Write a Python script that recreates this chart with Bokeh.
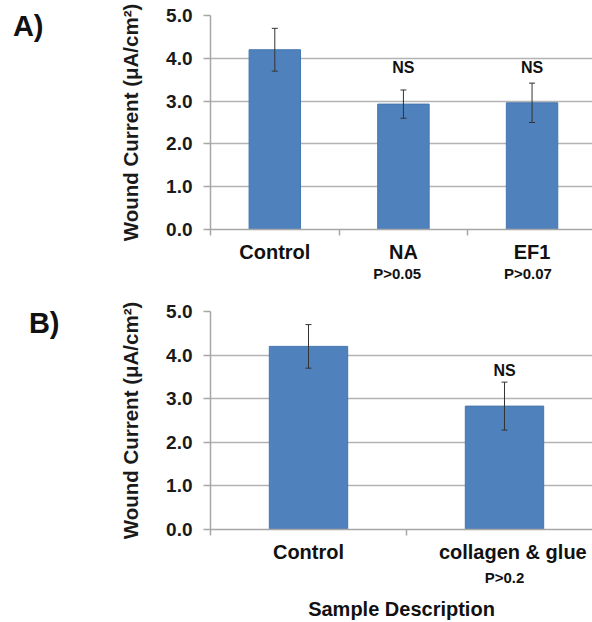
from bokeh.plotting import figure
from bokeh.layouts import column
from bokeh.models import (Range1d, FixedTicker, Whisker, TeeHead, ColumnDataSource,
                          Label, NumeralTickFormatter, LinearAxis)
from bokeh.embed import file_html
from bokeh.resources import INLINE

# ---- data ----
y_ticks = [0, 1, 2, 3, 4, 5]

categories_a = ["Control", "NA", "EF1"]
current_a = [4.2, 2.93, 2.96]
error_a = [0.5, 0.33, 0.46]
sig_a = ["", "NS", "NS"]
pvalue_a = ["", "P>0.05", "P>0.07"]

categories_b = ["Control", "collagen & glue"]
current_b = [4.2, 2.83]
error_b = [0.5, 0.55]
sig_b = ["", "NS"]
pvalue_b = ["", "P>0.2"]

FONT = "Liberation Sans"
BAR = "#4f81bd"
GRID = "#b3b3b3"
AXIS = "#a6a6a6"
TXT = "#111111"
NBSP = "\u00a0"
YLABEL = "Wound Current (\u03bcA/cm\u00b2)"


def plain_axis(ax, size, standoff):
    ax.axis_line_color = None
    ax.major_tick_line_color = None
    ax.minor_tick_line_color = None
    ax.major_tick_out = 0
    ax.major_tick_in = 0
    ax.minor_tick_out = 0
    ax.minor_tick_in = 0
    ax.major_label_standoff = standoff
    ax.major_label_text_font = FONT
    ax.major_label_text_font_style = "bold"
    ax.major_label_text_font_size = size
    ax.major_label_text_color = TXT


def style(p, xt, minor, overrides):
    p.outline_line_color = None
    p.xgrid.visible = False
    p.ygrid.ticker = FixedTicker(ticks=y_ticks)
    p.ygrid.grid_line_color = GRID
    p.ygrid.grid_line_width = 1.5

    ya = p.yaxis[0]
    ya.ticker = FixedTicker(ticks=y_ticks)
    ya.formatter = NumeralTickFormatter(format="0.0")
    ya.axis_line_color = AXIS
    ya.axis_line_width = 1.5
    ya.major_tick_line_color = AXIS
    ya.major_tick_line_width = 1.5
    ya.major_tick_out = 7
    ya.major_tick_in = 0
    ya.minor_tick_line_color = None
    ya.minor_tick_out = 0
    ya.minor_tick_in = 0
    ya.major_label_standoff = 11
    ya.major_label_text_font = FONT
    ya.major_label_text_font_style = "bold"
    ya.major_label_text_font_size = "19px"
    ya.major_label_text_color = "#1a1a1a"
    ya.axis_label = YLABEL
    ya.axis_label_text_font = FONT
    ya.axis_label_text_font_style = "bold"
    ya.axis_label_text_font_size = "20.5px"
    ya.axis_label_text_color = "#1a1a1a"
    ya.axis_label_standoff = 21

    xa = p.xaxis[0]
    xa.ticker = FixedTicker(ticks=xt, minor_ticks=minor)
    xa.major_label_overrides = overrides
    xa.axis_line_color = AXIS
    xa.axis_line_width = 1.5
    xa.major_tick_line_color = None
    xa.major_tick_out = 0
    xa.major_tick_in = 0
    xa.minor_tick_line_color = AXIS
    xa.minor_tick_line_width = 1.5
    xa.minor_tick_out = 6
    xa.minor_tick_in = 0
    xa.major_label_standoff = 5
    xa.major_label_text_font = FONT
    xa.major_label_text_font_style = "bold"
    xa.major_label_text_font_size = "20px"
    xa.major_label_text_color = TXT


def bars(p, values, errors):
    xs = list(range(len(values)))
    src = ColumnDataSource(dict(
        x=xs, top=values,
        upper=[v + e for v, e in zip(values, errors)],
        lower=[v - e for v, e in zip(values, errors)],
    ))
    p.vbar(x="x", top="top", width=0.4, source=src,
           fill_color=BAR, line_color="#4676b0", line_width=1)
    w = Whisker(base="x", upper="upper", lower="lower", source=src, level="overlay",
                line_color="#333333", line_width=1,
                upper_head=TeeHead(size=6, line_color="#333333", line_width=1),
                lower_head=TeeHead(size=6, line_color="#333333", line_width=1))
    p.add_layout(w)


def sig_labels(p, sigs, y):
    for i, s in enumerate(sigs):
        if s:
            p.add_layout(Label(x=i, y=y, text=s, text_font=FONT,
                               text_font_style="bold", text_font_size="16px",
                               text_align="center", text_baseline="middle",
                               text_color=TXT))


def pvalue_axis(p, pvals, standoff, pads):
    ax = LinearAxis(ticker=FixedTicker(ticks=[i for i, s in enumerate(pvals) if s]),
                    major_label_overrides={i: s + NBSP * pads[i]
                                           for i, s in enumerate(pvals) if s})
    plain_axis(ax, "15px", standoff)
    p.add_layout(ax, "below")
    return ax


def panel_tag(p, tag, y, standoff):
    ax = LinearAxis(ticker=FixedTicker(ticks=[y]), major_label_overrides={y: tag})
    plain_axis(ax, "29px", standoff)
    p.add_layout(ax, "left")


# ---- panel A ----
pA = figure(width=592, height=290, output_backend="svg", toolbar_location=None,
            x_range=Range1d(-0.5, 2.47), y_range=Range1d(0, 5),
            min_border_left=207, min_border_right=0,
            min_border_top=15, min_border_bottom=61)
bars(pA, current_a, error_a)
style(pA, list(range(len(categories_a))), [-0.5, 0.5, 1.5],
      {i: c for i, c in enumerate(categories_a)})
sig_labels(pA, sig_a, 3.78)
pvalue_axis(pA, pvalue_a, -1, [0, 3, 2])
panel_tag(pA, "A)", 4.75, 73)

# ---- panel B ----
pB = figure(width=592, height=332, output_backend="svg", toolbar_location=None,
            x_range=Range1d(-0.5, 1.449), y_range=Range1d(0, 5),
            min_border_left=210, min_border_right=0,
            min_border_top=21, min_border_bottom=93)
bars(pB, current_b, error_b)
style(pB, [0, 1], [-0.5, 0.5],
      {0: categories_b[0], 1: NBSP * 3 + categories_b[1]})
sig_labels(pB, sig_b, 3.65)
axB = pvalue_axis(pB, pvalue_b, 3, [0, 0])
axB.axis_label = "Sample Description"
axB.axis_label_text_font = FONT
axB.axis_label_text_font_style = "bold"
axB.axis_label_text_font_size = "20px"
axB.axis_label_text_color = TXT
axB.axis_label_standoff = 9
panel_tag(pB, "B)", 4.73, 57)

layout = column(pA, pB, spacing=0)
open("out.html", "w").write(file_html(layout, INLINE))
